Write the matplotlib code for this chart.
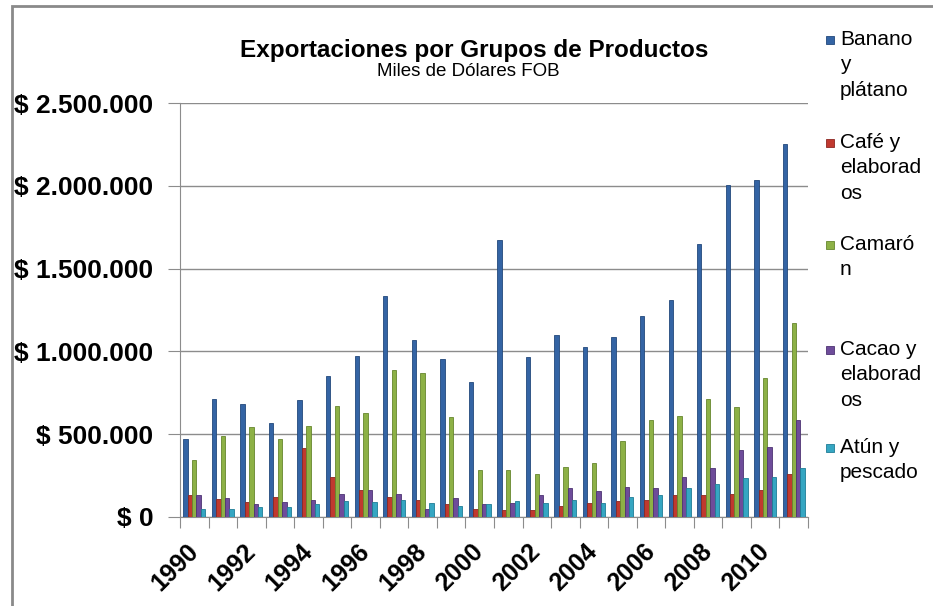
import matplotlib
matplotlib.use("Agg")
import matplotlib.pyplot as plt
import numpy as np
from matplotlib.patches import Rectangle
from matplotlib.ticker import FuncFormatter, FixedLocator

plt.rcParams['font.family'] = ['Liberation Sans', 'DejaVu Sans']

# Datos (miles de dolares FOB)
anios = list(range(1990, 2012))
banano = [474, 714, 680, 568, 706, 852, 972, 1336, 1066, 954, 818, 1675, 964, 1100, 1024, 1086, 1212, 1312, 1649, 2003, 2038, 2255]
cafe = [130, 110, 88, 120, 414, 242, 162, 122, 104, 78, 50, 40, 40, 68, 86, 96, 104, 130, 130, 140, 164, 260]
camaron = [344, 492, 542, 474, 550, 672, 628, 886, 870, 602, 284, 284, 258, 302, 328, 456, 586, 610, 714, 662, 842, 1170]
cacao = [130, 114, 78, 88, 104, 138, 162, 138, 50, 112, 80, 86, 130, 174, 156, 182, 174, 242, 294, 406, 424, 586]
atun = [50, 50, 60, 60, 78, 96, 88, 104, 86, 68, 80, 94, 86, 104, 86, 120, 130, 174, 200, 234, 242, 294]

nombres = ["Banano\ny\nplátano", "Café y\nelaborad\nos", "Camaró\nn", "Cacao y\nelaborad\nos", "Atún y\npescado"]
series = [banano, cafe, camaron, cacao, atun]
colores = ['#3464a4', '#c0392f', '#8db146', '#6e4c9a', '#35a6c2']
bordes = ['#22487c', '#8c2722', '#66862e', '#4d3373', '#1f7d96']

fig = plt.figure(figsize=(9.33, 6.06), dpi=100)
ax = fig.add_axes([180 / 933, 1 - 517 / 606, 628 / 933, 414 / 606])

x = np.arange(len(anios))
ancho = 0.154
for i, (vals, c, b) in enumerate(zip(series, colores, bordes)):
    ax.bar(x + (i - 2) * ancho, np.array(vals) * 1000, width=ancho, color=c,
           edgecolor=b, linewidth=0.6, zorder=3)

ax.set_xlim(-0.5, len(anios) - 0.5)
ax.set_ylim(0, 2500000)
ax.set_yticks(np.arange(0, 2500001, 500000))
ax.yaxis.set_major_formatter(FuncFormatter(
    lambda v, p: "$ " + format(int(v), ",").replace(",", ".")))
ax.grid(axis='y', color='#8c8c8c', linewidth=1, zorder=0)

# ticks en los limites de cada categoria, etiquetas cada dos anios
ax.xaxis.set_major_locator(FixedLocator(np.arange(-0.5, len(anios), 1)))
ax.xaxis.set_major_formatter(FuncFormatter(lambda v, p: ""))
pares = [i for i, a in enumerate(anios) if a % 2 == 0]
ax.xaxis.set_minor_locator(FixedLocator(pares))
ax.set_xticklabels([str(anios[i]) for i in pares], minor=True)
ax.tick_params(axis='x', which='major', length=8, color='#8c8c8c', direction='out')
ax.tick_params(axis='x', which='minor', length=0, pad=22)
for t in ax.get_xticklabels(minor=True):
    t.set_rotation(45)
    t.set_ha('right')
    t.set_va('center')
    t.set_rotation_mode('anchor')
    t.set_fontsize(18)
    t.set_fontweight('bold')
ax.tick_params(axis='y', length=9, color='#8c8c8c', pad=10, labelsize=19)
for t in ax.get_yticklabels():
    t.set_fontweight('bold')

for lado in ['top', 'right']:
    ax.spines[lado].set_visible(False)
ax.spines['left'].set_color('#8c8c8c')
ax.spines['bottom'].set_color('#8c8c8c')

# titulo
fig.text(474 / 933, 1 - 50 / 606, "Exportaciones por Grupos de Productos",
         ha='center', va='center', fontsize=17.5, fontweight='bold')
fig.text(468 / 933, 1 - 71 / 606, "Miles de Dólares FOB",
         ha='center', va='center', fontsize=13.5)

# leyenda a mano
y_ini = [40, 143, 245, 350, 448]
for nom, c, b, y0 in zip(nombres, colores, bordes, y_ini):
    fig.patches.append(Rectangle((826 / 933, 1 - (y0 + 4) / 606), 8 / 933, 8 / 606,
                                 transform=fig.transFigure, facecolor=c,
                                 edgecolor=b, linewidth=0.6))
    fig.text(840 / 933, 1 - (y0 - 10) / 606, nom, ha='left', va='top',
             fontsize=15, linespacing=1.42)

# marco del grafico
fig.patches.append(Rectangle((11.5 / 933, -0.1), 1.2, 1.1 - 6 / 606,
                             transform=fig.transFigure, fill=False,
                             edgecolor='#8a8a8a', linewidth=2))

plt.savefig('out.png', dpi=100)
